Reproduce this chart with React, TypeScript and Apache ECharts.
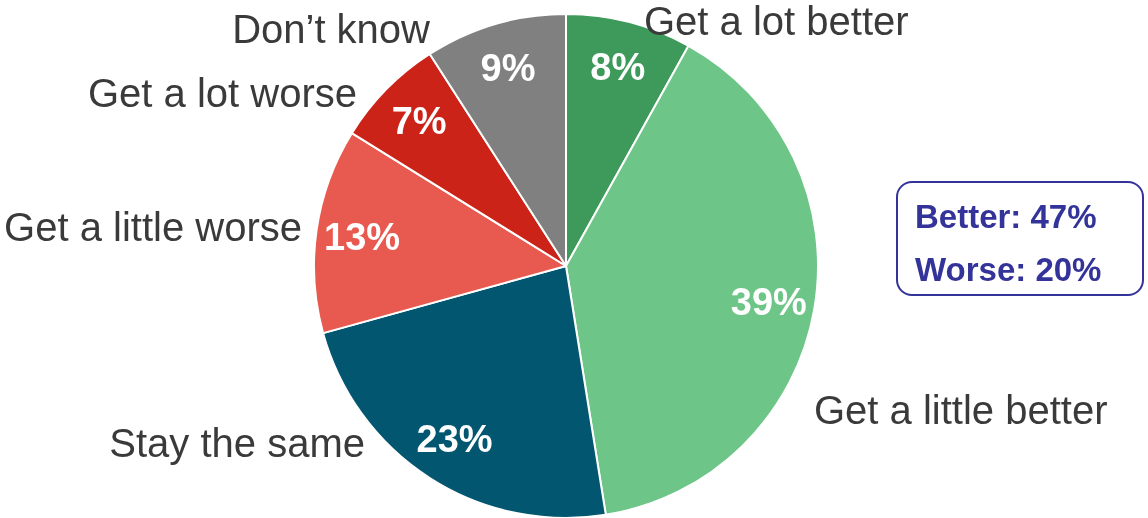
import React, { useEffect, useRef } from 'react';
import * as echarts from 'echarts';

const categories = ['Get a lot better', 'Get a little better', 'Stay the same', 'Get a little worse', 'Get a lot worse', 'Don’t know'];
const values = [8, 39, 23, 13, 7, 9];
const colors = ['#3d9a5a', '#6dc587', '#02566f', '#e8594f', '#cc2318', '#808080'];
const betterIdx = [0, 1];
const worseIdx = [3, 4];

// label layout (positions only, not data)
const labelAnchors = [
  { x: 644, y: 21, align: 'left' },
  { x: 814, y: 410, align: 'left' },
  { x: 365, y: 443, align: 'right' },
  { x: 302, y: 227, align: 'right' },
  { x: 357, y: 93, align: 'right' },
  { x: 430, y: 29, align: 'right' },
];

export default function App() {
  const ref = useRef<HTMLDivElement>(null);
  useEffect(() => {
    if (!ref.current) return;
    const chart = echarts.init(ref.current, null, { renderer: 'svg' });
    const data = categories.map((name, i) => ({ name, value: values[i], itemStyle: { color: colors[i] } }));
    const better = betterIdx.reduce((s, i) => s + values[i], 0);
    const worse = worseIdx.reduce((s, i) => s + values[i], 0);
    chart.setOption({
      animation: false,
      series: [
        {
          type: 'pie',
          center: [566, 266],
          radius: [0, 252],
          startAngle: 90,
          clockwise: true,
          data,
          itemStyle: { borderColor: '#ffffff', borderWidth: 2 },
          label: {
            show: true,
            position: 'outside',
            formatter: '{b}',
            overflow: 'none',
            width: 400,
            fontFamily: 'Liberation Sans, Arial, sans-serif',
            fontSize: 40,
            color: '#3a3a3a',
          },
          labelLine: { show: false },
          labelLayout: (p: any) => {
            const a = labelAnchors[p.dataIndex];
            return { x: a.x, y: a.y, align: a.align, verticalAlign: 'middle', hideOverlap: false, moveOverlap: false };
          },
          silent: true,
        },
        {
          type: 'pie',
          center: [566, 266],
          radius: [154, 252],
          startAngle: 90,
          clockwise: true,
          data: categories.map((name, i) => ({ name, value: values[i] })),
          itemStyle: { color: 'rgba(0,0,0,0)', borderWidth: 0 },
          label: {
            show: true,
            position: 'inside',
            formatter: '{c}%',
            fontFamily: 'Liberation Sans, Arial, sans-serif',
            fontWeight: 'bold',
            fontSize: 38,
            color: '#ffffff',
          },
          labelLine: { show: false },
          silent: true,
        },
      ],
      graphic: [
        {
          type: 'rect',
          shape: { x: 897, y: 182, width: 246, height: 113, r: 15 },
          style: { fill: '#ffffff', stroke: '#333399', lineWidth: 2 },
        },
        {
          type: 'text',
          x: 915,
          y: 216,
          style: {
            text: `Better: ${better}%`,
            fontFamily: 'Liberation Sans, Arial, sans-serif',
            fontWeight: 'bold',
            fontSize: 33,
            fill: '#333399',
            verticalAlign: 'middle',
          },
        },
        {
          type: 'text',
          x: 915,
          y: 269,
          style: {
            text: `Worse: ${worse}%`,
            fontFamily: 'Liberation Sans, Arial, sans-serif',
            fontWeight: 'bold',
            fontSize: 33,
            fill: '#333399',
            verticalAlign: 'middle',
          },
        },
      ],
    });
    return () => chart.dispose();
  }, []);
  return <div ref={ref} style={{ position: 'fixed', left: 0, top: 0, width: 1148, height: 518 }} />;
}
